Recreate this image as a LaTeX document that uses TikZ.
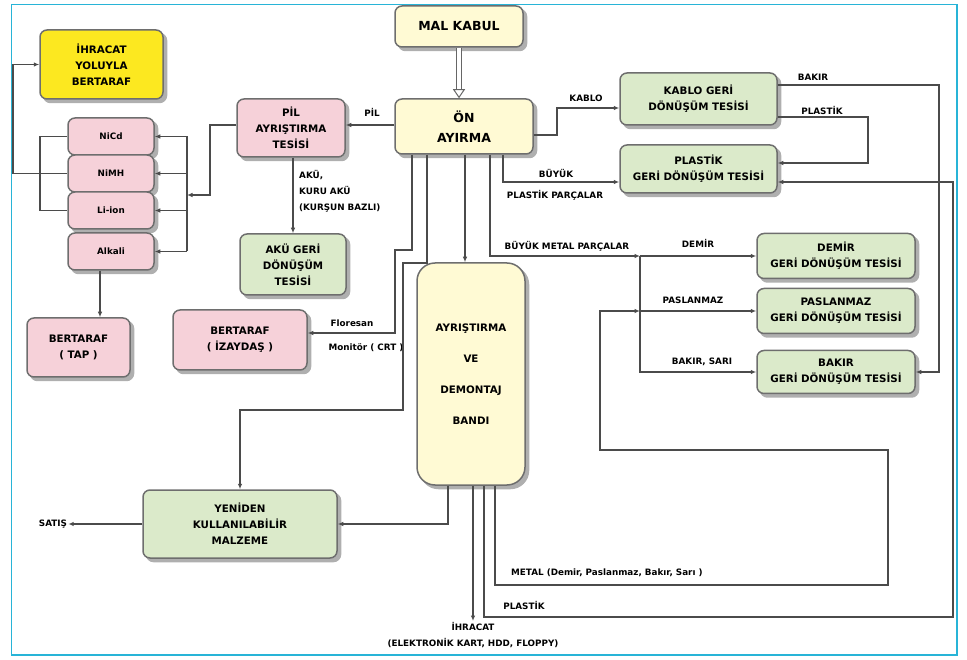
\documentclass[tikz,border=0pt]{standalone}
\usepackage{fontspec}
\setmainfont{DejaVu Sans}
\usetikzlibrary{arrows.meta}

\definecolor{boxline}{RGB}{110,110,110}
\definecolor{wire}{RGB}{75,75,75}
\definecolor{shadowgray}{RGB}{175,175,175}
\definecolor{creamfill}{RGB}{255,250,212}
\definecolor{pinkfill}{RGB}{246,209,217}
\definecolor{greenfill}{RGB}{219,234,202}
\definecolor{yellowfill}{RGB}{252,232,32}
\definecolor{framecyan}{RGB}{40,180,215}

\newcommand{\bigtxt}{\fontsize{12.5}{20}\selectfont\bfseries}
\newcommand{\boxtxt}{\fontsize{10.3}{16}\selectfont\bfseries}
\newcommand{\lbltxt}{\fontsize{8.8}{16}\selectfont\bfseries}

\tikzset{
  box/.style={draw=boxline, line width=1.5pt, rounded corners=7pt, align=center, inner sep=2pt, font=\boxtxt,
    preaction={draw=shadowgray, fill=shadowgray, transform canvas={shift={(3.5pt,-3.5pt)}}}},
  creambox/.style={box, fill=creamfill},
  pinkbox/.style={box, fill=pinkfill},
  greenbox/.style={box, fill=greenfill},
  yellowbox/.style={box, fill=yellowfill},
  lbl/.style={font=\lbltxt, inner sep=1pt, align=center},
  line/.style={draw=wire, line width=1.4pt},
  conn/.style={line, -{Latex[length=5.5pt,width=4.5pt]}},
  hollow/.style={draw=wire!85, line width=1pt, double=white, double distance=3.5pt, -{Triangle[open,length=9pt,width=12pt]}}
}

\begin{document}
\begin{tikzpicture}[x=1pt,y=1pt,yscale=-1,xscale=1]

        \useasboundingbox (0,0) rectangle (967,660);
        \draw[framecyan, line width=1.5pt] (11.5,4.5) rectangle (957,655);

        % boxes
        \node[creambox, font=\bigtxt, minimum width=128, minimum height=41] (malkabul) at (459,26.5) {MAL KABUL};
        \node[creambox, font=\bigtxt, minimum width=138, minimum height=55] (onayirma) at (464,126.5) {ÖN\\AYIRMA};
        \node[yellowbox, minimum width=123, minimum height=69] (ihracatbt) at (101.5,64.5) {İHRACAT\\YOLUYLA\\BERTARAF};
        \node[pinkbox, font=\lbltxt, minimum width=86, minimum height=37] (nicd) at (111,136.5) {NiCd};
        \node[pinkbox, font=\lbltxt, minimum width=86, minimum height=37] (nimh) at (111,173.5) {NiMH};
        \node[pinkbox, font=\lbltxt, minimum width=86, minimum height=37] (liion) at (111,210.5) {Li-ion};
        \node[pinkbox, font=\lbltxt, minimum width=86, minimum height=37] (alkali) at (111,251.5) {Alkali};
        \node[pinkbox, minimum width=103, minimum height=59] (tap) at (78.5,347.5) {BERTARAF\\( TAP )};
        \node[pinkbox, minimum width=108, minimum height=58] (pil) at (291,128) {PİL\\AYRIŞTIRMA\\TESİSİ};
        \node[greenbox, minimum width=106, minimum height=61] (aku) at (293,264.5) {AKÜ GERİ\\DÖNÜŞÜM\\TESİSİ};
        \node[pinkbox, minimum width=134, minimum height=60] (izaydas) at (240,340) {BERTARAF\\( İZAYDAŞ )};
        \node[greenbox, minimum width=157, minimum height=52] (kablotesis) at (698.5,99) {KABLO GERİ\\DÖNÜŞÜM TESİSİ};
        \node[greenbox, minimum width=157, minimum height=48] (plastiktesis) at (698.5,169) {PLASTİK\\GERİ DÖNÜŞÜM TESİSİ};
        \node[greenbox, minimum width=158, minimum height=45] (demir) at (836,256) {DEMİR\\GERİ DÖNÜŞÜM TESİSİ};
        \node[greenbox, minimum width=158, minimum height=45] (paslanmaz) at (836,311) {PASLANMAZ\\GERİ DÖNÜŞÜM TESİSİ};
        \node[greenbox, minimum width=158, minimum height=43] (bakir) at (836,372) {BAKIR\\GERİ DÖNÜŞÜM TESİSİ};
        \node[creambox, rounded corners=18pt, minimum width=108, minimum height=222] (bant) at (471,374) {AYRIŞTIRMA\\[15pt]VE\\[15pt]DEMONTAJ\\[15pt]BANDI};
        \node[greenbox, minimum width=194, minimum height=68] (yeniden) at (240,524) {YENİDEN\\KULLANILABİLİR\\MALZEME};

        % labels
        \node[lbl] (pillbl) at (372,112) {PİL};
        \node[lbl, align=left, anchor=north west] (akulbl) at (298,169) {AKÜ,\\KURU AKÜ\\(KURŞUN BAZLI)};
        \node[lbl] (kablolbl) at (586,98) {KABLO};
        \node[lbl] (buyuklbl) at (556,173) {BÜYÜK};
        \node[lbl] (pparlbl) at (555,195) {PLASTİK PARÇALAR};
        \node[lbl] (bakirlbl) at (813,77) {BAKIR};
        \node[lbl] (plastiklbl) at (822,110) {PLASTİK};
        \node[lbl] (bmplbl) at (567,246) {BÜYÜK METAL PARÇALAR};
        \node[lbl] (demirlbl) at (698,243) {DEMİR};
        \node[lbl] (paslbl) at (693,300) {PASLANMAZ};
        \node[lbl] (bsarilbl) at (702,362) {BAKIR, SARI};
        \node[lbl] (floresanlbl) at (352,323) {Floresan};
        \node[lbl] (monitorlbl) at (366,348) {Monitör ( CRT )};
        \node[lbl] (satis) at (53,524) {SATIŞ};
        \node[lbl, anchor=west] (metallbl) at (510,573) {METAL (Demir, Paslanmaz, Bakır, Sarı )};
        \node[lbl] (plastik2lbl) at (524,605) {PLASTİK};
        \node[lbl, anchor=north] (ihracatlbl) at (473,621) {İHRACAT\\(ELEKTRONİK KART, HDD, FLOPPY)};

        % connectors
        \draw[hollow] (malkabul.south) -- (malkabul.south |- onayirma.north);
        \draw[conn] (onayirma.west |- 0,125) -- (pil.east |- 0,125);

        \coordinate (brk) at (187,195);
        \draw[conn] (pil.west |- 0,125) -| (210,195) -- (brk);
        \draw[line] (brk |- nicd.east) -- (brk |- alkali.east);
        \foreach \cell in {nicd,nimh,liion,alkali}
            \draw[conn] (brk |- \cell.east) -- (\cell.east);

        \coordinate (lbrk) at (40,173.5);
        \coordinate (lout) at (13,173.5);
        \draw[line] (nicd.west) -| (lbrk) |- (liion.west);
        \draw[conn] (nimh.west) -- (lout) |- (ihracatbt.west);
        \draw[conn] (alkali.south -| 100,0) -- (tap.north -| 100,0);
        \draw[conn] (pil.south -| aku.north) -- (aku.north);

        \draw[conn] (onayirma.south -| 412,0) |- (395,250) |- (izaydas.east |- 0,333);
        \draw[conn] (onayirma.south -| 427,0) |- (403,263) |- (yeniden.north |- 0,410) -- (yeniden.north);
        \draw[conn] (onayirma.south -| 465,0) -- (bant.north -| 465,0);

        \coordinate (msplit) at (640,256);
        \draw[conn] (onayirma.south -| 490,0) |- (msplit);
        \draw[conn] (msplit) -- (demir.west);
        \draw[conn] (msplit |- paslanmaz.west) -- (paslanmaz.west);
        \draw[conn] (msplit) |- (bakir.west);

        \draw[conn] (onayirma.south -| 503,0) |- (plastiktesis.west |- 0,182);
        \draw[conn] (onayirma.east |- 0,135) -| (557,108) -- (kablotesis.west |- 0,108);
        \draw[conn] (kablotesis.east |- 0,85) -| (bakir.east -| 939,0) -- (bakir.east);
        \draw[conn] (kablotesis.east |- 0,117) -| (868,163) -- (plastiktesis.east |- 0,163);

        \draw[conn] (bant.south -| 448,0) |- (yeniden.east);
        \draw[conn] (bant.south -| 473,0) -- (ihracatlbl.north);
        \draw[conn] (bant.south -| 484,0) |- (953,617) |- (plastiktesis.east |- 0,182);
        \draw[conn] (bant.south -| 495,0) |- (888,585) |- (600,450) |- (msplit |- paslanmaz.west);
        \draw[conn] (yeniden.west) -- (satis.east);

\end{tikzpicture}
\end{document}
